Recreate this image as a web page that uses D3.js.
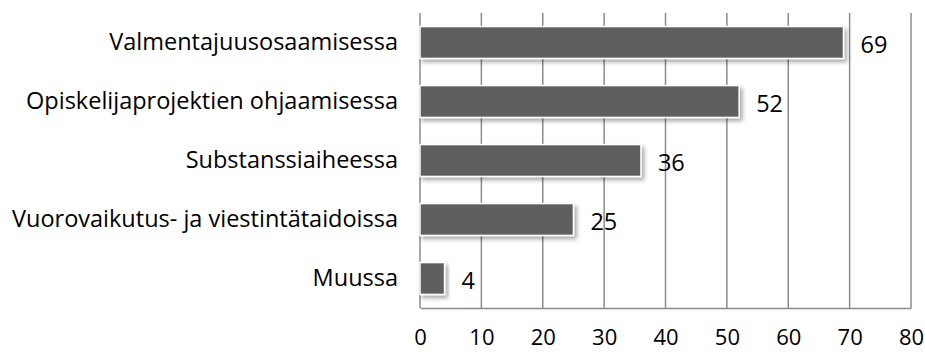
<!DOCTYPE html>
<html>
<head>
<meta charset="utf-8">
<script src="https://cdn.jsdelivr.net/npm/d3@7"></script>
<style>
  html, body { margin: 0; padding: 0; background: #fff; }
  svg { display: block; }
  text { font-family: "Open Sans", "Noto Sans", sans-serif; fill: #000; }
</style>
</head>
<body>
<svg id="chart" width="925" height="352"></svg>
<script>
const categories = [
  "Valmentajuusosaamisessa",
  "Opiskelijaprojektien ohjaamisessa",
  "Substanssiaiheessa",
  "Vuorovaikutus- ja viestintätaidoissa",
  "Muussa"
];
const values = [69, 52, 36, 25, 4];
const tickValues = [0, 10, 20, 30, 40, 50, 60, 70, 80];

const svg = d3.select("#chart");
const margin = { left: 420, right: 14, top: 13, bottom: 44 };
const W = 925, H = 352;
const font = "'Open Sans', 'Noto Sans', sans-serif";
const fontSize = "23.5px";
const tickFontSize = "22px";
const gridColor = "#8c8c8c";

const x = d3.scaleLinear().domain([0, 80]).range([margin.left, W - margin.right]);
const y = d3.scaleBand().domain(categories).range([margin.top, H - margin.bottom]).paddingInner(0.46).paddingOuter(0.23);

// soft drop shadow under the bars
const defs = svg.append("defs");
const f = defs.append("filter").attr("id", "shadow").attr("x", "-10%").attr("y", "-30%").attr("width", "130%").attr("height", "180%");
f.append("feDropShadow").attr("dx", 2.5).attr("dy", 3).attr("stdDeviation", 2).attr("flood-color", "#000").attr("flood-opacity", 0.35);

// vertical gridlines
svg.append("g").selectAll("line").data(tickValues.slice(1)).join("line")
  .attr("x1", d => x(d)).attr("x2", d => x(d))
  .attr("y1", margin.top).attr("y2", H - margin.bottom)
  .attr("stroke", gridColor).attr("stroke-width", 1.5);

// bottom axis
const xAxis = svg.append("g").attr("transform", `translate(0,${H - margin.bottom})`)
  .call(d3.axisBottom(x).tickValues(tickValues).tickSize(0).tickPadding(21));
xAxis.select(".domain").attr("stroke", gridColor).attr("stroke-width", 1.5);
xAxis.selectAll("text").style("font-size", tickFontSize).style("font-family", font).attr("fill", "#000");

// category axis
const yAxis = svg.append("g").attr("transform", `translate(${margin.left},0)`)
  .call(d3.axisLeft(y).tickSize(0).tickPadding(22));
yAxis.select(".domain").remove();
yAxis.selectAll("text").style("font-size", fontSize).style("font-family", font).attr("fill", "#000");
svg.append("line")
  .attr("x1", x(0)).attr("x2", x(0))
  .attr("y1", margin.top).attr("y2", H - margin.bottom)
  .attr("stroke", gridColor).attr("stroke-width", 1.5);

// bars
svg.append("g").selectAll("rect").data(values).join("rect")
  .attr("x", x(0))
  .attr("y", (d, i) => y(categories[i]))
  .attr("width", d => x(d) - x(0))
  .attr("height", y.bandwidth())
  .attr("fill", "#5f5f5f")
  .attr("stroke", "#ffffff").attr("stroke-width", 1.5)
  .attr("filter", "url(#shadow)");

// value labels
svg.append("g").selectAll("text").data(values).join("text")
  .attr("x", d => x(d) + 17)
  .attr("y", (d, i) => y(categories[i]) + y.bandwidth() / 2 + 2)
  .attr("dy", "0.35em")
  .style("font-size", fontSize)
  .text(d => d);
</script>
</body>
</html>
